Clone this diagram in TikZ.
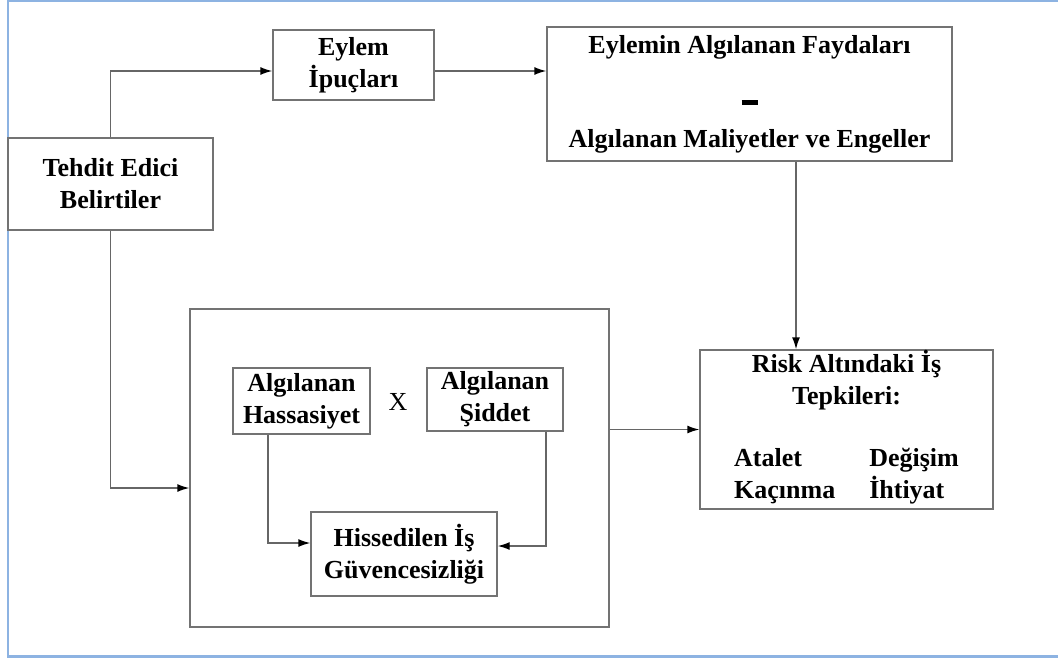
\documentclass[tikz,border=0pt]{standalone}
\usepackage{fontspec}
\setmainfont{Liberation Serif}
\usetikzlibrary{arrows.meta}
\definecolor{framebl}{RGB}{141,179,226}

\begin{document}
\begin{tikzpicture}[x=0.5pt,y=-0.5pt]
    \tikzstyle{box} = [draw=black!55,line width=0.7pt,shape=rectangle,inner sep=0pt,align=center,font=\fontsize{13}{16}\selectfont\bfseries]
    \tikzstyle{arrow} = [draw=black!60,line width=0.7pt,-{Latex[length=6pt,width=4pt,color=black]}]
    \tikzstyle{frame} = [draw=framebl,line width=1.2pt]

    \useasboundingbox (0,0) rectangle (1058,658);
    \path[frame] (1058,1) -- (8,1) -- (8,656.5) -- (1058,656.5);

    \node[box,minimum width=102.5pt,minimum height=46pt] (tehdit) at (110.5,184) {Tehdit Edici\\Belirtiler};
    \node[box,minimum width=80.5pt,minimum height=35pt] (ipucu) at (353.5,65) {Eylem\\İpuçları};
    \node[box,minimum width=202.5pt,minimum height=67pt] (fayda) at (749.5,94) {Eylemin Algılanan Faydaları\\[10pt]\rule{8pt}{2.5pt}\\[5pt]Algılanan Maliyetler ve Engeller};
    \node[box,minimum width=209.5pt,minimum height=159pt] (algi) at (399.5,468) {};
    \node[box,minimum width=68.5pt,minimum height=33pt] (hassas) at (301.5,401) {Algılanan\\Hassasiyet};
    \node[box,minimum width=68pt,minimum height=31.5pt] (siddet) at (495,399.5) {Algılanan\\Şiddet};
    \node[font=\fontsize{13}{16}\selectfont] (carpi) at (398,402) {X};
    \node[box,minimum width=93pt,minimum height=42pt] (hisse) at (404,554) {Hissedilen İş\\Güvencesizliği};
    \node[box,minimum width=146.5pt,minimum height=79.5pt] (tepki) at (846.5,429.5) {Risk Altındaki İş\\Tepkileri:\\[15pt]\begin{tabular}[t]{@{}l@{\hspace{17pt}}l@{}}Atalet & Değişim\\Kaçınma & İhtiyat\end{tabular}};

    \coordinate (a) at (0,71);
    \coordinate (f) at (796,0);
    \coordinate (t) at (0,488);
    \coordinate (h) at (268,543);
    \coordinate (s) at (546,546);

    \draw[arrow] (tehdit.north) |- (a -| ipucu.west);
    \draw[arrow] (a -| ipucu.east) -- (a -| fayda.west);
    \draw[arrow] (f |- fayda.south) -- (f |- tepki.north);
    \draw[arrow] (tehdit.south) |- (t -| algi.west);
    \draw[arrow] (algi.east |- tepki.west) -- (tepki.west);
    \draw[arrow] (h |- hassas.south) |- (h -| hisse.west);
    \draw[arrow] (s |- siddet.south) |- (s -| hisse.east);
\end{tikzpicture}
\end{document}
